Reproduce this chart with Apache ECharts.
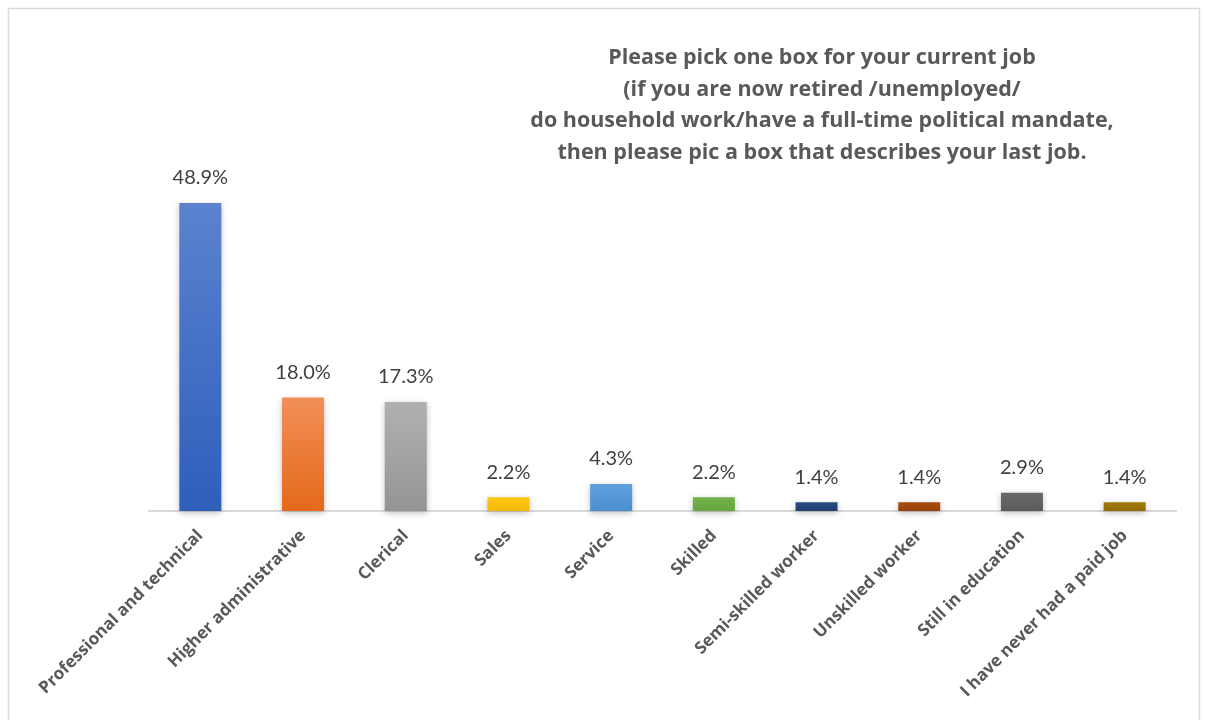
<!DOCTYPE html>
<html>
<head>
<meta charset="utf-8">
<style>
  html, body { margin: 0; padding: 0; background: #ffffff; }
  #chart { width: 1205px; height: 720px; }
</style>
<script src="https://cdn.jsdelivr.net/npm/echarts@6/dist/echarts.min.js"></script>
</head>
<body>
<div id="chart"></div>
<script>
// Occupation categories and share of respondents (%)
const categories = [
  'Professional and technical',
  'Higher administrative',
  'Clerical',
  'Sales',
  'Service',
  'Skilled',
  'Semi-skilled worker',
  'Unskilled worker',
  'Still in education',
  'I have never had a paid job'
];
const shares = [48.9, 18.0, 17.3, 2.2, 4.3, 2.2, 1.4, 1.4, 2.9, 1.4];
// Top / bottom colours of each bar's vertical gradient
const colorTop = ['#5b82cf', '#f28f58', '#b0b0b0', '#ffc71a', '#5fa0dc', '#74b24b', '#2a4b84', '#a84d10', '#6a6a6a', '#a27b05'];
const colorBottom = ['#2d5fbb', '#e4691a', '#959595', '#f5b800', '#4a8fd0', '#67a63e', '#203f72', '#96420b', '#5a5a5a', '#926c00'];

const titleLines = [
  'Please pick one box for your current job',
  '(if you are now retired /unemployed/',
  'do household work/have a full-time political mandate,',
  'then please pic a box that describes your last job.'
];

const chart = echarts.init(document.getElementById('chart'));

const barData = shares.map((v, i) => ({
  value: v,
  itemStyle: {
    color: new echarts.graphic.LinearGradient(0, 0, 0, 1, [
      { offset: 0, color: colorTop[i] },
      { offset: 1, color: colorBottom[i] }
    ])
  }
}));

chart.setOption({
  backgroundColor: '#ffffff',
  animation: false,
  title: {
    text: titleLines.join('\n'),
    left: 817,
    top: 37,
    textAlign: 'center',
    textStyle: {
      fontFamily: 'Open Sans',
      fontWeight: 'bold',
      fontSize: 21.5,
      color: '#595959',
      lineHeight: 31.7
    }
  },
  graphic: [{
    type: 'rect',
    shape: { x: 8.5, y: 8.5, width: 1191, height: 730 },
    style: { fill: 'none', stroke: '#d9d9d9', lineWidth: 1.5 },
    silent: true,
    z: -1
  }],
  grid: {
    left: 149,
    right: 29,
    top: 133,
    bottom: 209,
    containLabel: false
  },
  xAxis: {
    type: 'category',
    data: categories,
    axisLine: { show: true, lineStyle: { color: '#d9d9d9', width: 2 } },
    axisTick: { show: false },
    axisLabel: {
      rotate: 45,
      interval: 0,
      margin: 22,
      fontFamily: 'Open Sans',
      fontWeight: 'bold',
      fontSize: 17,
      color: '#595959'
    }
  },
  yAxis: {
    type: 'value',
    min: 0,
    max: 60,
    show: false,
    splitLine: { show: false }
  },
  series: [{
    type: 'bar',
    data: barData,
    barWidth: 42,
    itemStyle: {
      shadowColor: 'rgba(0,0,0,0.25)',
      shadowBlur: 6,
      shadowOffsetX: 0,
      shadowOffsetY: 2
    },
    label: {
      show: true,
      position: 'top',
      distance: 15,
      formatter: p => p.value.toFixed(1) + '%',
      fontFamily: 'Lato',
      fontSize: 20,
      color: '#404040'
    }
  }]
});
</script>
</body>
</html>
